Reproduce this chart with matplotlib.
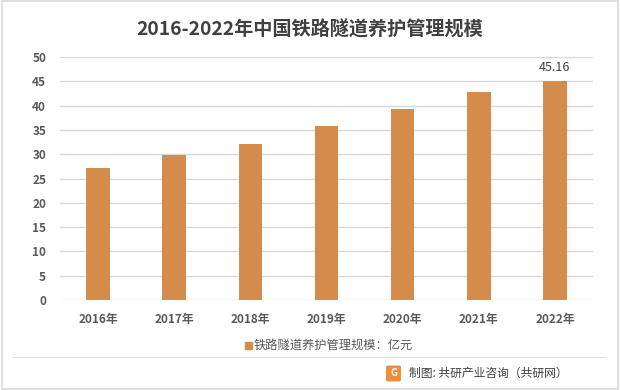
import numpy as np
import matplotlib.pyplot as plt
from matplotlib.patches import FancyBboxPatch, Rectangle

plt.rcParams['font.family'] = ['Noto Sans CJK SC', 'DejaVu Sans']

# ----------------------------------------------
# Data
# ----------------------------------------------
years = ["2016年", "2017年", "2018年", "2019年", "2020年", "2021年", "2022年"]
values = [27.2, 29.9, 32.2, 35.9, 39.2, 42.7, 45.16]
series_name = "铁路隧道养护管理规模：亿元"
title = "2016-2022年中国铁路隧道养护管理规模"
source = "制图: 共研产业咨询（共研网）"

bar_color = "#D48B4C"
text_color = "#595959"

# ----------------------------------------------
# Figure
# ----------------------------------------------
fig = plt.figure(figsize=(6.2, 3.9), dpi=100)
ax = fig.add_axes([60/620, 1-300/390, 533/620, (300-57)/390])

x = np.arange(len(years))
ax.bar(x, values, width=0.31, color=bar_color, zorder=3, label=series_name)

ax.set_xlim(-0.5, len(years)-0.5)
ax.set_ylim(0, 50)
ax.set_yticks(np.arange(0, 51, 5))
ax.set_xticks(x)
ax.set_xticklabels(years)
ax.yaxis.grid(True, color="#D9D9D9", lw=1, zorder=0)
for s in ax.spines.values():
    s.set_visible(False)
ax.tick_params(length=0, colors=text_color, labelsize=8.5)
ax.tick_params(axis="y", pad=10)
ax.tick_params(axis="x", pad=9)
for lab in ax.get_xticklabels() + ax.get_yticklabels():
    lab.set_fontweight("bold")

# label on last bar
ax.text(x[-1], values[-1] + 1.3, f"{values[-1]:.2f}", ha="center", va="bottom",
        fontsize=9, color="#404040")

fig.text(0.5, 1-30/390, title, ha="center", va="center", fontsize=13.8,
         fontweight="bold", color="#404040")

# legend
fig.patches.append(Rectangle((245/620, 1-349/390), 7/620, 7/390, color=bar_color,
                             transform=fig.transFigure, figure=fig))
fig.text(254/620, 1-345/390, series_name, ha="left", va="center",
         fontsize=8.8, color=text_color)

# footer
fig.add_artist(plt.Line2D([0.02, 0.975], [1-357/390]*2, color="#E0E0E0", lw=0.8,
                          transform=fig.transFigure))
fig.patches.append(FancyBboxPatch((388/620, 1-380/390), 11/620, 13/390,
                                  boxstyle="round,pad=0.002", color="#F08C3C",
                                  transform=fig.transFigure, figure=fig))
fig.text(393.5/620, 1-373.5/390, "G", ha="center", va="center", fontsize=7,
         fontweight="bold", color="white")
fig.text(568/620, 1-373/390, source, ha="right", va="center",
         fontsize=8.5, color="#404040")

# border
fig.patches.append(Rectangle((0.003, 0.003), 0.994, 0.994, fill=False,
                             edgecolor="#D9D9D9", lw=1.2,
                             transform=fig.transFigure, figure=fig))

fig.savefig("out.png", dpi=100)
